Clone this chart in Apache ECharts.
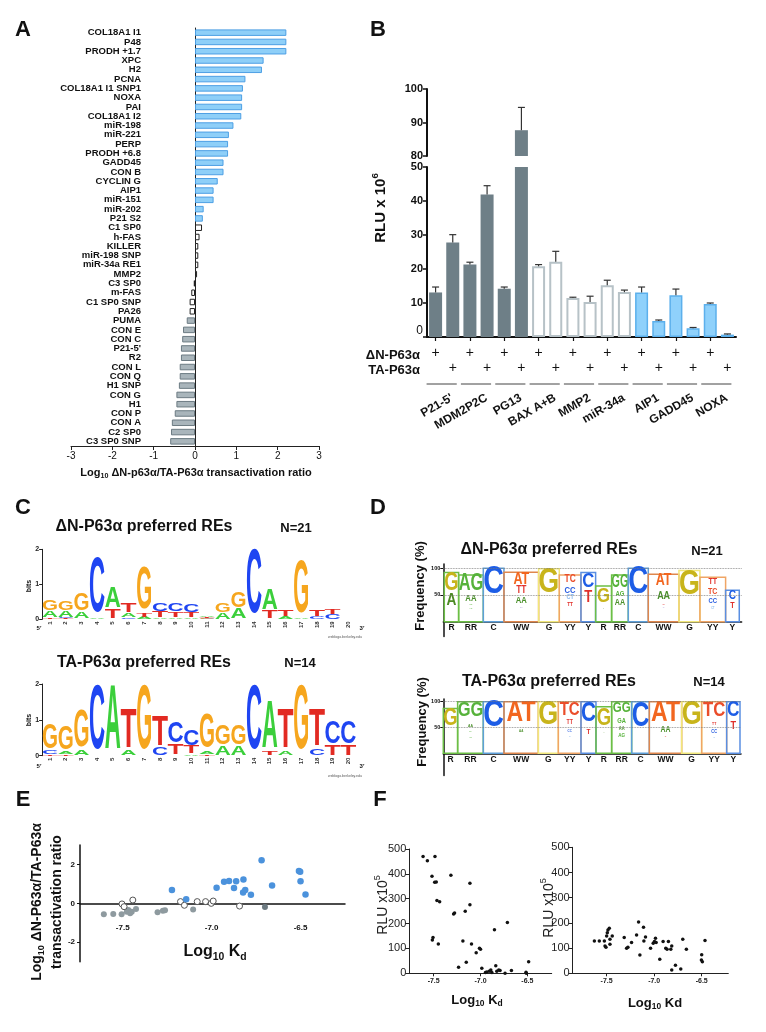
<!DOCTYPE html>
<html><head><meta charset="utf-8">
<script src="https://cdn.jsdelivr.net/npm/echarts@6/dist/echarts.min.js"></script>
<style>html,body{margin:0;padding:0;background:#fff}#c{width:766px;height:1032px}</style>
</head><body><div id="c"></div>
<script>
// ---------------- DATA ----------------
// Panel A
const aCategories = ['COL18A1 I1','P48','PRODH +1.7','XPC','H2','PCNA','COL18A1 I1 SNP1','NOXA','PAI','COL18A1 I2','miR-198','miR-221','PERP','PRODH +6.8','GADD45','CON B','CYCLIN G','AIP1','miR-151','miR-202','P21 S2','C1 SP0','h-FAS','KILLER','miR-198 SNP','miR-34a RE1','MMP2','C3 SP0','m-FAS','C1 SP0 SNP','PA26','PUMA','CON E','CON C',"P21-5'",'R2','CON L','CON Q','H1 SNP','CON G','H1','CON P','CON A','C2 SP0','C3 SP0 SNP'];
const aValues = [2.21,2.21,2.21,1.66,1.62,1.22,1.16,1.14,1.14,1.12,0.93,0.82,0.80,0.80,0.69,0.69,0.55,0.45,0.45,0.21,0.19,0.17,0.11,0.08,0.08,0.08,0.05,-0.03,-0.09,-0.13,-0.13,-0.20,-0.29,-0.31,-0.34,-0.34,-0.37,-0.37,-0.39,-0.45,-0.45,-0.49,-0.56,-0.58,-0.60];
const aClass = ['dn','dn','dn','dn','dn','dn','dn','dn','dn','dn','dn','dn','dn','dn','dn','dn','dn','dn','dn','dn','dn','ns','ns','ns','ns','ns','ns','ns','ns','ns','ns','ta','ta','ta','ta','ta','ta','ta','ta','ta','ta','ta','ta','ta','ta'];

// Panel B
const bGenes = ["P21-5'",'MDM2P2C','PG13','BAX A+B','MMP2','miR-34a','AIP1','GADD45','NOXA'];
const bClass = ['ta','ta','ta','ns','ns','ns','dn','dn','dn'];
const bDN = [13.1,21.3,14.2,20.8,11.5,15.2,13.1,12.3,9.7];
const bDNtop = [14.7,22.0,14.7,21.3,11.7,16.7,14.7,14.1,10.0];
const bTA = [27.8,41.9,87.7,22.1,10.3,13.2,4.7,2.6,0.7];
const bTAtop = [30.1,44.5,94.5,25.2,12.0,13.8,5.0,2.8,0.9];

// Panel C (letter heights, bits) ΔN logo
const cDN = {
  A:[0.20,0.18,0.20,0.05,0.62,0.12,0.06,0.04,0.04,0.04,0.03,0.18,0.30,0,0.60,0.08,0.05,0,0,0],
  C:[0,0.03,0,1.60,0,0.05,0,0.22,0.22,0.22,0.02,0,0,1.85,0,0,0,0.08,0.13,0],
  G:[0.30,0.28,0.50,0,0,0,1.20,0,0,0,0.02,0.25,0.45,0,0,0,1.50,0,0,0],
  T:[0.04,0.02,0,0,0.28,0.27,0.12,0.17,0.16,0.15,0.02,0,0,0,0.22,0.20,0,0.20,0.14,0]
};
// TA logo
const cTA = {
  A:[0,0.08,0.15,0,1.83,0.13,0,0,0,0.04,0.08,0.25,0.25,0,1.35,0.12,0,0,0,0],
  C:[0.10,0,0,1.83,0,0,0,0.20,0.60,0.45,0,0,0,1.83,0,0,0,0.18,0.62,0.62],
  G:[0.70,0.65,1.05,0,0,0,1.83,0,0,0,0.95,0.55,0.55,0,0,0,1.83,0,0,0],
  T:[0.04,0.04,0,0,0,1.10,0,0.85,0.30,0.20,0.04,0,0,0,0.10,1.10,0,1.05,0.28,0.28]
};
const cPositions = [1,2,3,4,5,6,7,8,9,10,11,12,13,14,15,16,17,18,19,20];

// Panel D (frequency %)
const dLabels = ['R','RR','C','WW','G','YY','Y','R','RR','C','WW','G','YY','Y'];
const dTopWidths = [4.3,7.4,6.2,10.4,6.2,6.5,4.4,4.8,5.0,6.0,9.2,6.3,7.7,4.1];
const dTopFreq = [92,87.5,100,92.5,99,87.5,92,67,87.5,100,89,96,83,59];
const dTopLetters = [
 [['G',90,56],['A',52,29]],
 [['AG',87,56],['AA',50,37],['GG',33,30],['AG',27,24]],
 [['C',98,47]],
 [['AT',90,69],['TT',66,52],['AA',46,33],['TA',28,25]],
 [['G',97,50]],
 [['TC',86,72],['CC',66,53],['CT',51,42],['TT',37,29]],
 [['C',90,62],['T',56,34]],
 [['G',62,34],['A',25,23]],
 [['GG',86,62],['AG',56,46],['AA',41,29]],
 [['C',98,47]],
 [['AT',87,66],['AA',56,41],['TT',33,30],['TA',27,25]],
 [['G',94,47]],
 [['TT',81,69],['TC',62,50],['CC',44,34],['CT',28,24]],
 [['C',58,41],['T',37,25]]
];
const dBotWidths = [4.3,7.7,6.2,10.3,6.0,6.8,4.5,4.7,6.0,5.3,9.7,6.0,7.5,4.0];
const dBotFreq = [87,100,100,100,100,100,100,90,100,100,100,100,100,100];
const dBotLetters = [
 [['G',84,52]],
 [['GG',97,68],['AA',57,51],['GA',44,41],['AG',33,30]],
 [['C',98,48]],
 [['AT',98,58],['AA',46,41]],
 [['G',97,52]],
 [['TC',97,71],['TT',65,56],['CC',45,40],['CT',33,31]],
 [['C',97,58],['T',48,37]],
 [['G',84,52],['A',41,39]],
 [['GG',97,77],['GA',68,58],['AA',52,45],['AG',39,31]],
 [['C',97,48]],
 [['AT',98,58],['AA',52,40],['TT',33,31]],
 [['G',98,52]],
 [['TC',97,68],['TT',60,54],['CC',45,38],['CT',32,30]],
 [['C',98,68],['T',61,45]]
];
const dTicks = [50,100];

// Panel E
const eTA = [[-7.606,-0.56],[-7.553,-0.55],[-7.506,-0.56],[-7.477,-0.43],[-7.468,-0.34],[-7.458,-0.51],[-7.449,-0.43],[-7.425,-0.29],[-7.304,-0.46],[-7.274,-0.38],[-7.262,-0.36],[-7.104,-0.31]];
const eTAdark = [[-6.70,-0.19]];
const eNS = [[-7.504,-0.03],[-7.492,-0.17],[-7.443,0.17],[-7.175,0.09],[-7.153,-0.10],[-7.081,0.09],[-7.034,0.09],[-7.002,0.0],[-6.991,0.12],[-6.843,-0.14]];
const eDN = [[-7.223,0.68],[-7.143,0.21],[-6.972,0.80],[-6.930,1.11],[-6.902,1.15],[-6.874,0.79],[-6.862,1.13],[-6.821,1.23],[-6.823,0.56],[-6.811,0.68],[-6.779,0.44],[-6.719,2.21],[-6.660,0.92],[-6.509,1.66],[-6.502,1.62],[-6.500,1.13],[-6.472,0.46]];
const eXTicks = [-7.5,-7.0,-6.5];
const eYTicks = [-2,0,2];

// Panel F
const fLeft = [[-7.613,470],[-7.567,453],[-7.486,470],[-7.518,390],[-7.489,366],[-7.472,367],[-7.465,293],[-7.436,288],[-7.316,394],[-7.287,239],[-7.277,243],[-7.163,250],[-7.113,362],[-7.113,276],[-7.514,134],[-7.507,144],[-7.450,118],[-7.188,130],[-7.096,118],[-7.046,83],[-7.011,101],[-7.000,97],[-6.851,175],[-6.713,204],[-7.152,44],[-7.234,24],[-6.986,20],[-6.947,3],[-6.933,5],[-6.908,8],[-6.890,13],[-6.879,3],[-6.837,30],[-6.826,8],[-6.805,13],[-6.791,11],[-6.738,0],[-6.670,11],[-6.514,4],[-6.511,0],[-6.486,46]];
const fRight = [[-7.629,128],[-7.577,128],[-7.524,128],[-7.517,108],[-7.507,103],[-7.500,148],[-7.493,161],[-7.486,172],[-7.472,179],[-7.465,135],[-7.465,115],[-7.441,148],[-7.315,142],[-7.290,99],[-7.276,103],[-7.238,122],[-7.185,152],[-7.164,204],[-7.150,73],[-7.112,183],[-7.108,128],[-7.091,144],[-7.038,99],[-7.010,119],[-6.997,126],[-6.986,139],[-6.979,122],[-6.941,56],[-6.906,126],[-6.878,99],[-6.864,95],[-6.850,126],[-6.825,95],[-6.815,108],[-6.815,13],[-6.776,32],[-6.720,17],[-6.699,135],[-6.661,95],[-6.503,53],[-6.500,74],[-6.493,46],[-6.465,130]];
const fXTicks = [-7.5,-7.0,-6.5];

// ---------------- STYLE / HELPERS ----------------
const FF = '"Liberation Sans", Arial, Helvetica, sans-serif';
const mctx = document.createElement('canvas').getContext('2d');
function textW(str, size, weight){ mctx.font = (weight||'bold') + ' ' + size + 'px "Liberation Sans"'; return mctx.measureText(str).width; }

function lab(parts, x, y, size, opt){
  opt = opt || {};
  const weight = opt.weight || 'bold';
  const color = opt.color || '#111';
  const widths = parts.map(p => textW(p[0], p[1]==='n'? size : size*0.65, weight));
  const W = widths.reduce((a,b)=>a+b,0);
  let x0 = opt.align === 'left' ? 0 : opt.align === 'right' ? -W : -W/2;
  const children = [];
  parts.forEach((p,i)=>{
    const fs = p[1]==='n' ? size : size*0.65;
    const dy = p[1]==='s' ? size*0.32 : p[1]==='p' ? -size*0.38 : 0;
    children.push({type:'text', x:x0, y:dy, silent:true, style:{text:p[0], fontSize:fs, fontWeight:weight, fontFamily:FF, fill:color, align:'left', verticalAlign:'middle'}});
    x0 += widths[i];
  });
  return {type:'group', x, y, rotation: opt.rot || 0, silent:true, children};
}
function T(s, x, y, size, opt){ return lab([[s,'n']], x, y, size, opt); }

const A_STYLE = {
  dn:{color:'#8ecff8', borderColor:'#4d9fe4', borderWidth:1},
  ns:{color:'#ffffff', borderColor:'#222', borderWidth:1},
  ta:{color:'#a9b5bb', borderColor:'#6c7b83', borderWidth:1}
};
const B_STYLE = {
  ta:{color:'#6e7f87', borderColor:'#6e7f87', borderWidth:0},
  ns:{color:'#ffffff', borderColor:'#b7c2c7', borderWidth:2},
  dn:{color:'#8fd1fb', borderColor:'#5cb0ec', borderWidth:1.5}
};
const LOGO_COL = {A:'#3bcf3b', C:'#1f45f2', G:'#f6a61e', T:'#e22a22'};
const D_TXT_COL = {G:'#c8b41b', A:'#4d8a24', C:'#1d5de6', T:'#e0302a', AG:'#56b23a', GG:'#56b23a', GA:'#56b23a', AA:'#4a8f2a', AT:'#f2661f', TT:'#e2342e', TC:'#ea4d2a', CC:'#2a5ee0', CT:'#86b6ef', TA:'#a58fd8'};
const D_BOX_COL = {R:'#6cbf46', RR:'#6cbf46', C:'#5e9fd8', WW:'#df874d', G:'#f1e77a', YY:'#f0a565', Y:'#5a8fe2'};

function stretchText(str, cx, yTop, yBot, sx, color){
  const h = Math.max(yBot - yTop, 0.2);
  const sy = h / 71.6;
  return {type:'text', x:cx, y:(yTop+yBot)/2, scaleX:sx, scaleY:sy, silent:true,
    style:{text:str, fill:color, fontSize:100, fontWeight:'bold', fontFamily:FF, align:'center', verticalAlign:'middle'}};
}

function logoRenderer(H){
  return function(params, api){
    const col = api.value(0);
    const i = col - 1;
    const entries = ['A','C','G','T'].map(l=>[l, H[l][i]]).filter(e=>e[1] > 0.001).sort((a,b)=>a[1]-b[1]);
    const xl = api.coord([col-0.46, 0])[0], xr = api.coord([col+0.46, 0])[0];
    const w = xr - xl, cx = (xl+xr)/2;
    let base = 0; const children = [];
    entries.forEach(([l,h])=>{
      const yb = api.coord([col, base])[1], yt = api.coord([col, base+h])[1];
      base += h;
      const ink = textW(l, 100) * 0.9;
      children.push(stretchText(l, cx, yt, yb, w/ink, LOGO_COL[l]));
    });
    return {type:'group', children};
  };
}

function dRenderer(widths, freq, letters, startOff){
  const starts = []; let acc = startOff;
  widths.forEach(w=>{ starts.push(acc); acc += w; });
  return function(params, api){
    const k = api.value(0);
    const s = starts[k], w = widths[k];
    const p0 = api.coord([s, freq[k]]), p1 = api.coord([s+w, 0]);
    const lab0 = dLabels[k];
    const children = [{type:'rect', shape:{x:p0[0], y:p0[1], width:p1[0]-p0[0], height:p1[1]-p0[1]}, silent:true,
      style:{fill:'rgba(255,255,255,0)', stroke:D_BOX_COL[lab0], lineWidth:1.5}}];
    const bw = p1[0]-p0[0], cx = (p0[0]+p1[0])/2;
    letters[k].forEach(([str, top, bot])=>{
      const yt = api.coord([s, top])[1], yb = api.coord([s, bot])[1];
      const sy = (yb-yt)/71.6;
      const ink = textW(str, 100) * 0.92;
      const sx = Math.min(sy*0.8, (bw*0.92)/ink);
      children.push(stretchText(str, cx, yt, yb, sx, D_TXT_COL[str] || '#333'));
    });
    children.push({type:'text', x:cx, y:p1[1]+6, silent:true, style:{text:lab0, fontSize:8.5, fontWeight:'bold', fontFamily:FF, fill:'#111', align:'center', verticalAlign:'middle'}});
    return {type:'group', children};
  };
}

function errRenderer(params, api){
  const i = api.value(0), v = api.value(1), e = api.value(2);
  const p0 = api.coord([i, v]), p1 = api.coord([i, e]);
  return {type:'group', children:[
    {type:'line', shape:{x1:p0[0], y1:p0[1], x2:p1[0], y2:p1[1]}, style:{stroke:'#333', lineWidth:1.2}},
    {type:'line', shape:{x1:p1[0]-3.5, y1:p1[1], x2:p1[0]+3.5, y2:p1[1]}, style:{stroke:'#333', lineWidth:1.2}}
  ]};
}

function geneRenderer(params, api){
  const k = Math.round(api.value(0) / 2);
  const c0 = api.coord([2*k, 0]), c1 = api.coord([2*k+1, 0]);
  const mid = (c0[0]+c1[0])/2;
  return {type:'group', children:[
    {type:'line', shape:{x1:c0[0]-9, y1:c0[1]+47, x2:c1[0]+4, y2:c0[1]+47}, style:{stroke:'#444', lineWidth:1}},
    {type:'text', x:mid+8, y:c0[1]+60, rotation:Math.PI/6, style:{text:bGenes[k], fontSize:12, fontWeight:'bold', fontFamily:FF, fill:'#111', align:'right', verticalAlign:'middle'}}
  ]};
}

// ---------------- BUILD ----------------
const bIdx = []; const bLow = []; const bErrLow = []; const bErrUp = [];
bGenes.forEach((g,k)=>{
  bIdx.push(String(2*k), String(2*k+1));
  bLow.push({value:bDN[k], itemStyle:B_STYLE[bClass[k]]});
  bLow.push({value:bTA[k], itemStyle:B_STYLE[bClass[k]]});
  [[2*k,bDN[k],bDNtop[k]],[2*k+1,bTA[k],bTAtop[k]]].forEach(r=>{ if (r[1] <= 50) bErrLow.push(r); else bErrUp.push(r); });
});
const bUp = bLow.map(d => d.value >= 80 ? d : '-');

const noSplit = {show:false};
const blackLine = (w) => ({show:true, lineStyle:{color:'#111', width:w}});

const grids = [
  {left:71, top:28, width:248, height:418},
  {left:427, top:89, width:309, height:67},
  {left:427, top:167, width:309, height:170},
  {left:42.15, top:549.3, width:314, height:70},
  {left:42.15, top:684, width:314, height:71.7},
  {left:443.3, top:564, width:298.3, height:72.6},
  {left:443.3, top:699.1, width:297.7, height:76.4},
  {left:80, top:845, width:265, height:116.7},
  {left:409.3, top:849, width:142.4, height:124.3},
  {left:572.7, top:847.3, width:155.6, height:126}
].map(g => Object.assign({outerBoundsMode:'none', containLabel:false}, g));

const logoX = (gi) => ({gridIndex:gi, type:'value', min:0.5, max:20.5, splitLine:noSplit,
  axisLine:{show:false}, axisTick:{show:false},
  axisLabel:{customValues:cPositions, rotate:90, fontSize:6, fontWeight:'bold', color:'#333', margin:2}});
const logoY = (gi) => ({gridIndex:gi, type:'value', min:0, max:2, splitLine:noSplit,
  axisLine:{show:true, lineStyle:{color:'#222', width:1}}, axisTick:{show:true, customValues:[0,1,2], length:3, lineStyle:{color:'#222'}},
  axisLabel:{customValues:[0,1,2], fontSize:7, fontWeight:'bold', color:'#222', margin:3}});

const xAxes = [
  {gridIndex:0, type:'value', min:-3, max:3, interval:1, splitLine:noSplit,
   axisLine:{show:true, onZero:false, lineStyle:{color:'#222', width:1}}, axisTick:{show:true, length:4, lineStyle:{color:'#222'}},
   axisLabel:{fontSize:10, color:'#111', margin:5, formatter:v=>String(v)}},
  {gridIndex:1, type:'category', data:bIdx, show:false},
  {gridIndex:2, type:'category', data:bIdx, position:'bottom', axisLine:blackLine(2),
   axisTick:{show:true, alignWithLabel:true, length:4, lineStyle:{color:'#111', width:1.2}}, axisLabel:{show:false}},
  {gridIndex:2, type:'category', data:bIdx, position:'bottom', axisLine:{show:false}, axisTick:{show:false},
   axisLabel:{interval:0, margin:9, fontSize:14, color:'#111', formatter:(v,i)=> i%2===0 ? '+' : ''}},
  {gridIndex:2, type:'category', data:bIdx, position:'bottom', axisLine:{show:false}, axisTick:{show:false},
   axisLabel:{interval:0, margin:24, fontSize:14, color:'#111', formatter:(v,i)=> i%2===1 ? '+' : ''}},
  logoX(3), logoX(4),
  {gridIndex:5, type:'value', min:0, max:89.5, splitLine:noSplit, axisLine:{show:true, onZero:true, lineStyle:{color:'#111', width:1.5}}, axisTick:{show:false}, axisLabel:{show:false}},
  {gridIndex:6, type:'value', min:0, max:89.3, splitLine:noSplit, axisLine:{show:true, onZero:true, lineStyle:{color:'#111', width:1.5}}, axisTick:{show:false}, axisLabel:{show:false}},
  {gridIndex:7, type:'value', min:-7.74, max:-6.25, splitLine:noSplit, axisLine:{show:true, onZero:true, lineStyle:{color:'#111', width:1.5}},
   axisTick:{show:false},
   axisLabel:{customValues:eXTicks, formatter:v=>v.toFixed(1), fontSize:8, fontWeight:'bold', color:'#111', margin:-38}},
  {gridIndex:8, type:'value', min:-7.76, max:-6.24, splitLine:noSplit, axisLine:{show:true, onZero:false, lineStyle:{color:'#222', width:1}},
   axisTick:{show:true, customValues:fXTicks, length:3, lineStyle:{color:'#222'}},
   axisLabel:{customValues:fXTicks, formatter:v=>v.toFixed(1), fontSize:7, fontWeight:'bold', color:'#222', margin:4}},
  {gridIndex:9, type:'value', min:-7.857, max:-6.22, splitLine:noSplit, axisLine:{show:true, onZero:false, lineStyle:{color:'#222', width:1}},
   axisTick:{show:true, customValues:fXTicks, length:3, lineStyle:{color:'#222'}},
   axisLabel:{customValues:fXTicks, formatter:v=>v.toFixed(1), fontSize:7, fontWeight:'bold', color:'#222', margin:4}}
];

const yAxes = [
  {gridIndex:0, type:'category', data:aCategories, inverse:true,
   axisLine:{show:true, onZero:true, lineStyle:{color:'#222', width:1}}, axisTick:{show:false},
   axisLabel:{interval:0, fontSize:9.5, fontWeight:'bold', color:'#111', margin:-70}},
  {gridIndex:1, type:'value', min:80, max:100, interval:10, splitLine:noSplit, axisLine:blackLine(2),
   axisTick:{show:true, length:4, lineStyle:{color:'#111', width:1.5}}, axisLabel:{fontSize:11, fontWeight:'bold', color:'#111', margin:4}},
  {gridIndex:2, type:'value', min:0, max:50, interval:10, splitLine:noSplit, axisLine:blackLine(2),
   axisTick:{show:true, length:4, lineStyle:{color:'#111', width:1.5}},
   axisLabel:{fontSize:11, fontWeight:'bold', color:'#111', margin:4,
     formatter:v=> v===0 ? '{z|0}' : String(v), rich:{z:{fontSize:12, fontWeight:'normal', color:'#111', padding:[0,0,12,0]}}}},
  logoY(3), logoY(4),
  {gridIndex:5, type:'value', min:-28, max:108, splitLine:noSplit, axisLine:{show:true, onZero:false, lineStyle:{color:'#111', width:1.5}},
   axisTick:{show:true, customValues:dTicks, length:3, lineStyle:{color:'#111'}},
   axisLabel:{customValues:dTicks, fontSize:5.5, fontWeight:'bold', color:'#111', margin:3}},
  {gridIndex:6, type:'value', min:-43, max:105, splitLine:noSplit, axisLine:{show:true, onZero:false, lineStyle:{color:'#111', width:1.5}},
   axisTick:{show:true, customValues:dTicks, length:3, lineStyle:{color:'#111'}},
   axisLabel:{customValues:dTicks, fontSize:5.5, fontWeight:'bold', color:'#111', margin:3}},
  {gridIndex:7, type:'value', min:-3, max:3, splitLine:noSplit, axisLine:{show:true, onZero:false, lineStyle:{color:'#111', width:1.5}},
   axisTick:{show:true, customValues:eYTicks, length:3, lineStyle:{color:'#111'}},
   axisLabel:{customValues:eYTicks, fontSize:8, fontWeight:'bold', color:'#111', margin:5}},
  {gridIndex:8, type:'value', min:0, max:500, interval:100, splitLine:noSplit, axisLine:{show:true, onZero:false, lineStyle:{color:'#222', width:1}},
   axisTick:{show:true, length:4, lineStyle:{color:'#222'}}, axisLabel:{fontSize:11, color:'#222', margin:3}},
  {gridIndex:9, type:'value', min:0, max:500, interval:100, splitLine:noSplit, axisLine:{show:true, onZero:false, lineStyle:{color:'#222', width:1}},
   axisTick:{show:true, length:4, lineStyle:{color:'#222'}}, axisLabel:{fontSize:11, color:'#222', margin:3}}
];

const dotted = {type:'dotted', color:'#7a7a7a', width:0.8};
const series = [
  {type:'bar', xAxisIndex:0, yAxisIndex:0, barWidth:6.5, data:aValues.map((v,i)=>({value:v, itemStyle:A_STYLE[aClass[i]]}))},
  {type:'bar', xAxisIndex:2, yAxisIndex:2, barWidth:13, data:bLow},
  {type:'bar', xAxisIndex:1, yAxisIndex:1, barWidth:13, data:bUp},
  {type:'custom', xAxisIndex:2, yAxisIndex:2, renderItem:errRenderer, data:bErrLow, encode:{x:0, y:[1,2]}, z:5},
  {type:'custom', xAxisIndex:1, yAxisIndex:1, renderItem:errRenderer, data:bErrUp, encode:{x:0, y:[1,2]}, z:5},
  {type:'custom', xAxisIndex:2, yAxisIndex:2, renderItem:geneRenderer, data:bGenes.map((g,k)=>[2*k, 0]), encode:{x:0, y:1}},
  {type:'custom', xAxisIndex:5, yAxisIndex:3, renderItem:logoRenderer(cDN), data:cPositions.map(p=>[p,0]), encode:{x:0, y:1}},
  {type:'custom', xAxisIndex:6, yAxisIndex:4, renderItem:logoRenderer(cTA), data:cPositions.map(p=>[p,0]), encode:{x:0, y:1}},
  {type:'custom', xAxisIndex:7, yAxisIndex:5, renderItem:dRenderer(dTopWidths, dTopFreq, dTopLetters, 0.3), data:dLabels.map((l,k)=>[k,0]), encode:{x:0, y:1},
   markLine:{silent:true, symbol:['none','none'], label:{show:false}, lineStyle:dotted, data:[{yAxis:100},{yAxis:50}]}},
  {type:'custom', xAxisIndex:8, yAxisIndex:6, renderItem:dRenderer(dBotWidths, dBotFreq, dBotLetters, 0.0), data:dLabels.map((l,k)=>[k,0]), encode:{x:0, y:1},
   markLine:{silent:true, symbol:['none','none'], label:{show:false}, lineStyle:dotted, data:[{yAxis:100},{yAxis:50}]}},
  {type:'scatter', xAxisIndex:9, yAxisIndex:7, symbolSize:6, data:eTA, itemStyle:{color:'#8e9a9f', opacity:1}},
  {type:'scatter', xAxisIndex:9, yAxisIndex:7, symbolSize:6, data:eTAdark, itemStyle:{color:'#6b7980', opacity:1}},
  {type:'scatter', xAxisIndex:9, yAxisIndex:7, symbolSize:6, data:eNS, itemStyle:{color:'#ffffff', borderColor:'#555', borderWidth:1, opacity:1}},
  {type:'scatter', xAxisIndex:9, yAxisIndex:7, symbolSize:6.5, data:eDN, itemStyle:{color:'#4b92dc', opacity:1}},
  {type:'scatter', xAxisIndex:10, yAxisIndex:8, symbolSize:3.5, data:fLeft, itemStyle:{color:'#111', opacity:1}},
  {type:'scatter', xAxisIndex:11, yAxisIndex:9, symbolSize:3.5, data:fRight, itemStyle:{color:'#111', opacity:1}}
];

const P = Math.PI/2;
const texts = [
  T('A', 23, 30, 22), T('B', 378, 30, 22), T('C', 23, 508, 22), T('D', 378, 508, 22), T('E', 23, 800, 22), T('F', 380, 800, 22),
  lab([['Log','n'],['10','s'],[' ΔN-p63α/TA-P63α transactivation ratio','n']], 196, 473, 11),
  lab([['RLU x 10','n'],['6','p']], 381, 208, 15, {rot:P}),
  T('ΔN-P63α', 420, 355, 13, {align:'right'}),
  T('TA-P63α', 420, 370, 13, {align:'right'}),
  // C
  T('ΔN-P63α preferred REs', 144, 527, 16), T('N=21', 296, 528, 13),
  T('TA-P63α preferred REs', 144, 663, 16), T('N=14', 300, 663, 13),
  T('bits', 29, 586, 7, {rot:P}), T('bits', 29, 720, 7, {rot:P}),
  T("5′", 39, 628, 6), T("3′", 362, 628, 6), T("5′", 39, 766, 6), T("3′", 362, 766, 6),
  T('weblogo.berkeley.edu', 345, 637, 3.5, {weight:'normal', color:'#555'}),
  T('weblogo.berkeley.edu', 345, 776, 3.5, {weight:'normal', color:'#555'}),
  // D
  T('ΔN-P63α preferred REs', 549, 550, 16), T('N=21', 707, 551, 13),
  T('TA-P63α preferred REs', 549, 682, 16), T('N=14', 709, 682, 13),
  T('Frequency (%)', 420, 586, 13, {rot:P}), T('Frequency (%)', 422, 722, 13, {rot:P}),
  // E
  lab([['Log','n'],['10','s'],[' K','n'],['d','s']], 215, 952, 16),
  lab([['Log','n'],['10','s'],[' ΔN-P63α/TA-P63α','n']], 37, 902, 14, {rot:P}),
  T('transactivation ratio', 57, 902, 14, {rot:P}),
  // F
  lab([['RLU x10','n'],['5','p']], 383, 905, 14, {rot:P, weight:'normal', color:'#222'}),
  lab([['RLU x10','n'],['5','p']], 549, 908, 14, {rot:P, weight:'normal', color:'#222'}),
  lab([['Log','n'],['10','s'],[' K','n'],['d','s']], 477, 1000, 13),
  lab([['Log','n'],['10','s'],[' Kd','n']], 655, 1003, 13)
];

const chart = echarts.init(document.getElementById('c'), null, {renderer:'canvas', width:766, height:1032});
chart.setOption({
  animation:false,
  backgroundColor:'#ffffff',
  textStyle:{fontFamily:FF},
  grid:grids, xAxis:xAxes, yAxis:yAxes, series:series,
  graphic:{elements:texts}
});
</script></body></html>
